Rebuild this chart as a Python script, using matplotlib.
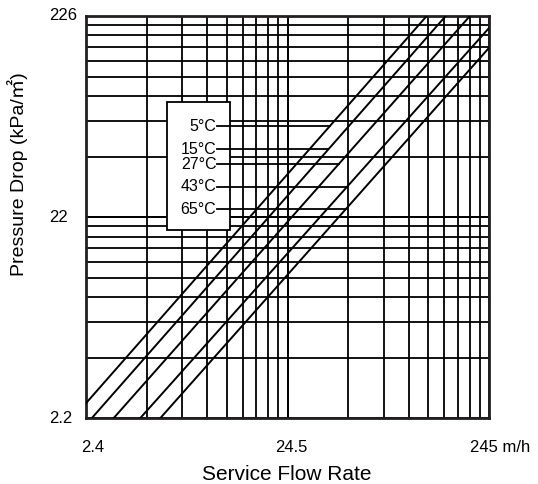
import numpy as np
import matplotlib
matplotlib.use("Agg")
import matplotlib.pyplot as plt
from matplotlib.patches import Rectangle

plt.rcParams["font.family"] = ["Liberation Sans", "Noto Sans CJK JP", "DejaVu Sans"]

# ---------------------------------------------------------------------------
# Data (log-log, flow in m/h, pressure drop in kPa/m2)
# ---------------------------------------------------------------------------
temps = ["5°C", "15°C", "27°C", "43°C", "65°C"]

# each curve as two end points (flow, pressure drop)
flow_start = [2.45, 2.61, 3.35, 4.54, 5.71]
dp_start   = [2.69, 2.26, 2.26, 2.26, 2.26]
flow_end   = [120.2, 149.4, 197.0, 245.0, 245.0]
dp_end     = [226.0, 226.0, 226.0, 197.0, 157.0]

# pressure level at which each legend leader line is drawn
leader_dp = [64.1, 49.1, 41.4, 32.0, 24.7]
leader_x0 = 11.0

x_ticks = [2.45, 24.5, 245.0]
x_tick_labels = ["2.4", "24.5", "245 m/h"]
y_ticks = [2.26, 22.6, 226.0]
y_tick_labels = ["2.2", "22", "226"]

# ---------------------------------------------------------------------------
# Figure
# ---------------------------------------------------------------------------
fig = plt.figure(figsize=(5.38, 4.84), dpi=100)
ax = fig.add_axes([0.160, 0.1357, 0.749, 0.8313])

ax.set_xscale("log")
ax.set_yscale("log")
ax.set_xlim(x_ticks[0], x_ticks[-1])
ax.set_ylim(y_ticks[0], y_ticks[-1])

# log grid anchored at the first tick of each decade
xg = [x_ticks[0] * k * 10**n for n in range(2) for k in range(1, 11)]
yg = [y_ticks[0] * k * 10**n for n in range(2) for k in range(1, 11)]
ax.set_xticks(xg, minor=True)
ax.set_yticks(yg, minor=True)
ax.set_xticks([])
ax.set_yticks([])
ax.tick_params(which="both", length=0, labelbottom=False, labelleft=False)
ax.grid(True, which="minor", color="black", linewidth=1.3)

for s in ax.spines.values():
    s.set_linewidth(2.0)
    s.set_color("#231f20")

# curves
for i in range(len(temps)):
    ax.plot([flow_start[i], flow_end[i]], [dp_start[i], dp_end[i]],
            color="black", linewidth=1.4, zorder=4, clip_on=True)

# legend box
ax.add_patch(Rectangle((0.200, 0.468), 0.157, 0.317, transform=ax.transAxes,
                       facecolor="white", edgecolor="black", linewidth=1.3,
                       zorder=3))

# labels with leader lines to each curve
for i, t in enumerate(temps):
    lx0, ly0 = np.log10(flow_start[i]), np.log10(dp_start[i])
    lx1, ly1 = np.log10(flow_end[i]), np.log10(dp_end[i])
    ly = np.log10(leader_dp[i])
    x_end = 10 ** (lx0 + (ly - ly0) * (lx1 - lx0) / (ly1 - ly0))
    ax.plot([leader_x0, x_end], [leader_dp[i], leader_dp[i]],
            color="black", linewidth=1.3, zorder=5)
    ax.annotate(t, xy=(leader_x0, leader_dp[i]), xytext=(-1, 0),
                textcoords="offset pixels", ha="right", va="center",
                fontsize=11.5, zorder=6)

# tick labels (placed by hand like the original)
x_offsets = [7, 4, -19]
x_ha = ["center", "center", "left"]
for xv, lab, dx, ha in zip(x_ticks, x_tick_labels, x_offsets, x_ha):
    ax.annotate(lab, xy=(xv, 0), xycoords=("data", "axes fraction"),
                xytext=(dx, -29), textcoords="offset pixels",
                ha=ha, va="center", fontsize=12, annotation_clip=False)
for yv, lab in zip(y_ticks, y_tick_labels):
    ax.annotate(lab, xy=(0, yv), xycoords=("axes fraction", "data"),
                xytext=(-37, 0), textcoords="offset pixels",
                ha="left", va="center", fontsize=12, annotation_clip=False)

fig.text(287 / 538, 1 - 474 / 484, "Service Flow Rate",
         ha="center", va="center", fontsize=15)
fig.text(18 / 538, 1 - 174 / 484, "Pressure Drop (kPa/㎡)",
         ha="center", va="center", rotation=90, fontsize=14)

fig.savefig("out.png", dpi=100)
